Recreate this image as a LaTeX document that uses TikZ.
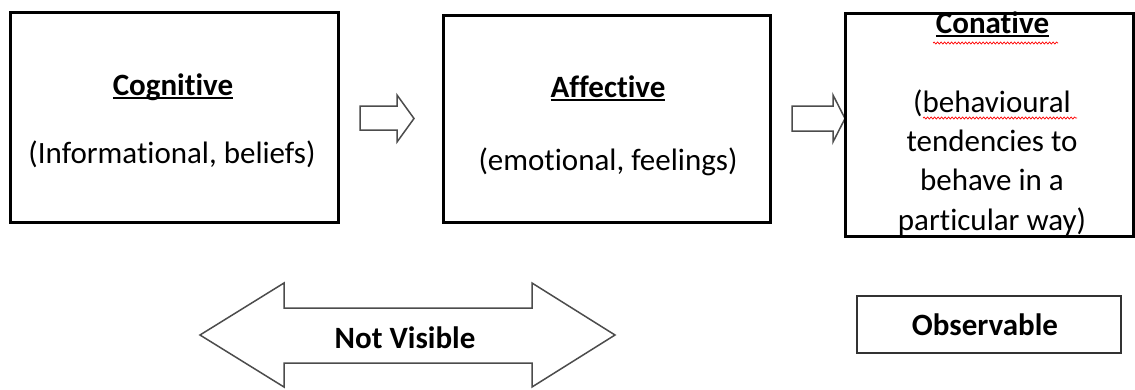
\documentclass[tikz,border=0pt]{standalone}
\usepackage{fontspec}
\setmainfont{Carlito}[Ligatures=NoCommon]
\usetikzlibrary{decorations.pathmorphing}

\newlength\ulwd
\newcommand\ulword[1]{\settowidth\ulwd{#1}\rlap{\rule[-3.5pt]{\ulwd}{1.8pt}}#1}
\newcommand\bigtext{\fontsize{31}{39.3}\selectfont}

\tikzset{
  box/.style={draw, rectangle, line width=3pt, inner sep=0pt},
  obsbox/.style={draw=black!80, rectangle, line width=2pt, inner sep=0pt},
  head/.style={font=\bigtext\bfseries, anchor=base, inner sep=0pt},
  body/.style={font=\bigtext, anchor=base, inner sep=0pt, align=center},
  blockarrow/.style={draw=black!70, line width=1.5pt, fill=white, line join=miter},
  spell/.style={draw=red, line width=0.7pt, decorate, decoration={snake, amplitude=1pt, segment length=3.5pt}}
}

\begin{document}
\begin{tikzpicture}[x=1pt, y=-1pt]
\useasboundingbox (0,0) rectangle (1135,389);

% block arrows between the parts
\draw[blockarrow] (360,106) -- (397,106) -- (397,95) -- (414,118.5) -- (397,142) -- (397,130) -- (360,130) -- cycle;
\draw[blockarrow] (792,106) -- (833,106) -- (833,95) -- (845,118.5) -- (833,142) -- (833,131) -- (792,131) -- cycle;

% the three components
\node[box, minimum width=327.5pt, minimum height=210pt] (cog) at (174.25,117) {};
\node[box, minimum width=326.5pt, minimum height=207pt] (aff) at (606.75,118.5) {};
\node[box, minimum width=288pt, minimum height=223pt] (con) at (989,124.5) {};

\node[head] (cogtitle) at (173,95) {\ulword{Cognitive}};
\node[body] (cogtext) at (172,163) {(Informational, beliefs)};
\node[head] (afftitle) at (608,97) {\ulword{Affective}};
\node[body] (afftext) at (608,170) {(emotional, feelings)};
\node[head] (contitle) at (992.5,33) {\ulword{Conative}};
\node[body] (context) at (992,230) {(behavioural\\tendencies to\\behave in a\\particular way)};

% spell check marks
\draw[spell] (933,43) -- (1058,43);
\draw[spell] (923,118) -- (1077,118);

% visibility
\draw[blockarrow] (200,335) -- (284,283) -- (284,308) -- (532,308) -- (532,283) -- (615,335)
  -- (532,387) -- (532,363) -- (284,363) -- (284,387) -- cycle;
\node[head] (notvis) at (405,348) {Not Visible};

\node[obsbox, minimum width=264pt, minimum height=57pt] (obs) at (989,324.5) {};
\node[head] (obstext) at (985,335) {Observable};
\end{tikzpicture}
\end{document}
